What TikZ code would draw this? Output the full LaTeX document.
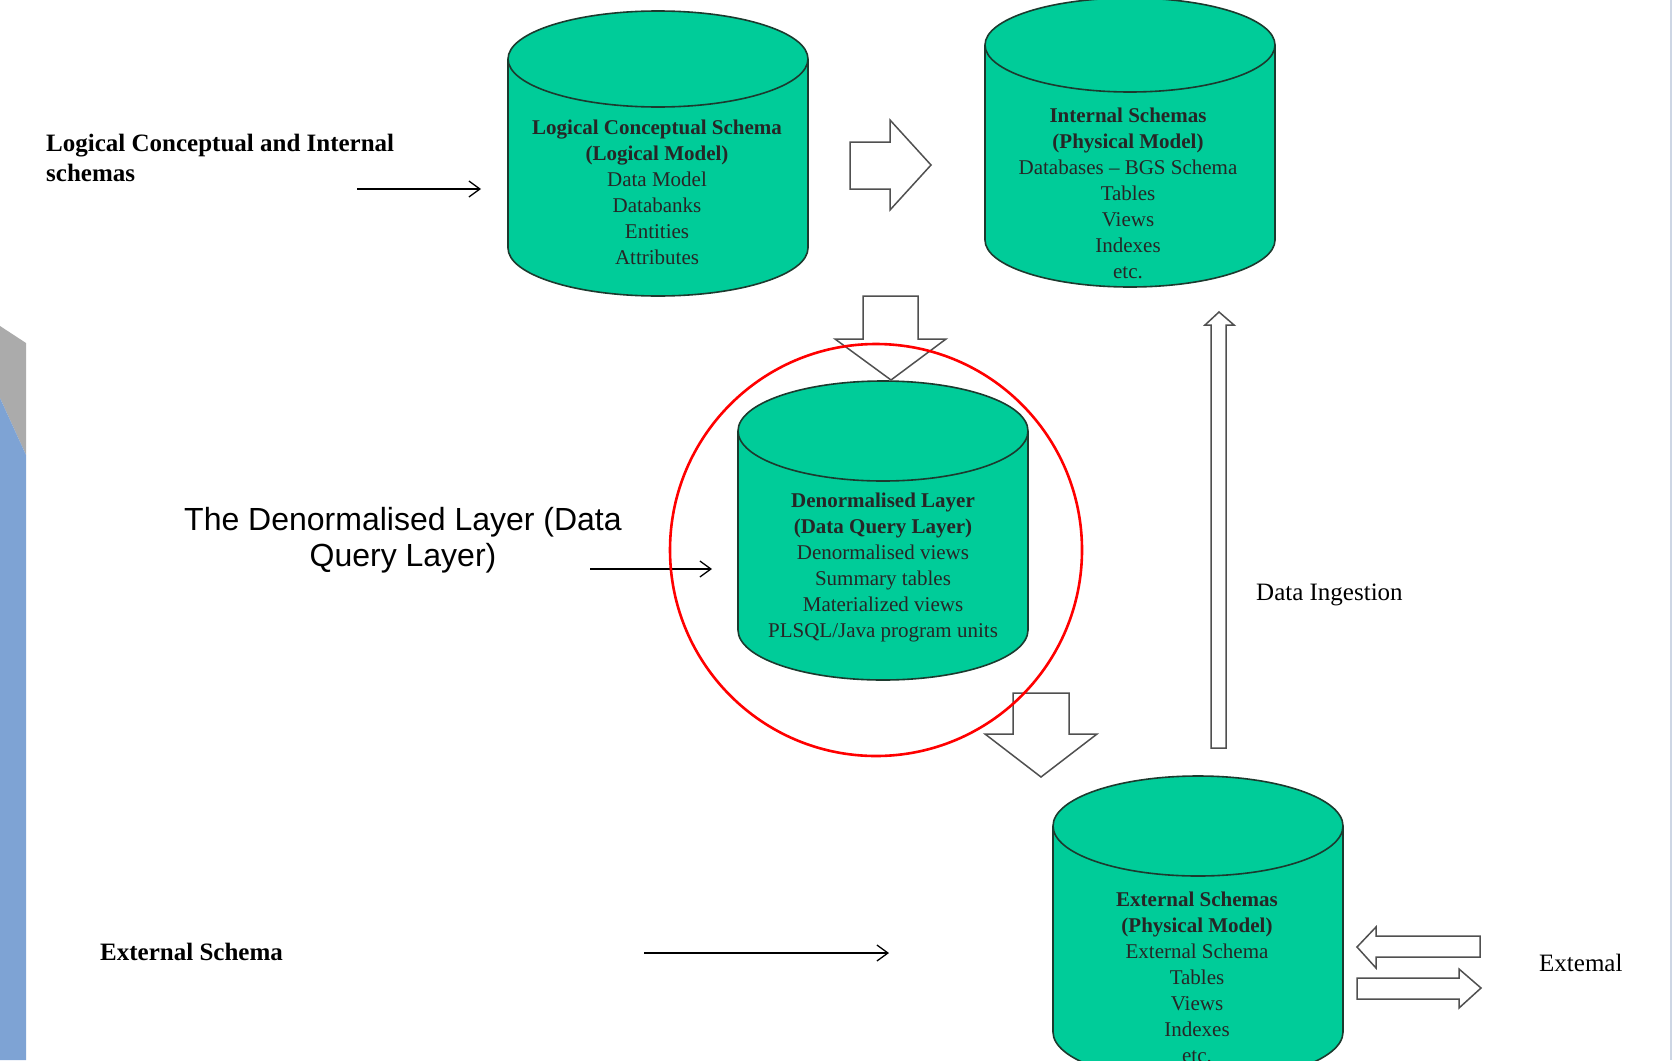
\documentclass[tikz,border=0pt]{standalone}
\usepackage{fontspec}
\setmainfont{Liberation Serif}
\newfontfamily\arialfont{Liberation Sans}
\usetikzlibrary{arrows.meta}
\definecolor{drumgreen}{RGB}{0,204,153}
\definecolor{drumline}{RGB}{28,58,46}
\definecolor{slideblue}{RGB}{126,163,212}
\definecolor{slidegray}{RGB}{171,171,171}
\definecolor{slideedge}{RGB}{205,214,228}
\definecolor{blockline}{RGB}{80,80,80}

% cx, top y, bottom y, rx, ry
\newcommand{\drawdrum}[5]{%
  \filldraw[drum] (#1,#3) ellipse[x radius=#4, y radius=#5];
  \fill[drumgreen] (#1-#4,#2) rectangle (#1+#4,#3);
  \draw[drum, fill=none] (#1-#4,#2) -- (#1-#4,#3) (#1+#4,#2) -- (#1+#4,#3);
  \filldraw[drum] (#1,#2) ellipse[x radius=#4, y radius=#5];
}

\begin{document}
\begin{tikzpicture}[x=1pt, y=-1pt,
    drum/.style={fill=drumgreen, draw=drumline, line width=1.6pt},
    drumtext/.style={align=center, inner sep=0pt, text=black!85, font=\fontsize{21}{26}\selectfont},
    sidelabel/.style={inner sep=0pt, anchor=west, font=\fontsize{25}{30}\selectfont},
    block/.style={fill=white, draw=blockline, line width=1.5pt, line join=miter},
    pointer/.style={line width=1.3pt, -{Straight Barb[length=11pt, width=16pt]}}]
    \useasboundingbox (0,0) rectangle (1672,1060);
    \clip (0,0) rectangle (1672,1060);
    \fill[white] (0,0) rectangle (1672,1060);
    \fill[slidegray] (0,326) -- (26,343) -- (26,455) -- (0,398) -- cycle;
    \fill[slideblue] (0,398) -- (26,455) -- (26,1060) -- (0,1060) -- cycle;
    \draw[slideedge, line width=2pt] (1671,0) -- (1671,1060);

    \drawdrum{658}{59}{248}{150}{48}
    \drawdrum{1130}{45}{240}{145}{47}
    \drawdrum{883}{431}{630}{145}{50}
    \drawdrum{1198}{826}{1032}{145}{50}

    \node[drumtext] (logical) at (657,192) {\textbf{Logical Conceptual Schema}\\ \textbf{(Logical Model)}\\ Data Model\\ Databanks\\ Entities\\ Attributes};
    \node[drumtext] (internal) at (1128,193) {\textbf{Internal Schemas}\\ \textbf{(Physical Model)}\\ Databases – BGS Schema\\ Tables\\ Views\\ Indexes\\ etc.};
    \node[drumtext] (denorm) at (883,567) {\textbf{Denormalised Layer}\\ \textbf{(Data Query Layer)}\\ Denormalised views\\ Summary tables\\ Materialized views\\ PLSQL/Java program units};
    \node[drumtext] (external) at (1197,977) {\textbf{External Schemas}\\ \textbf{(Physical Model)}\\ External Schema\\ Tables\\ Views\\ Indexes\\ etc.};

    \node[sidelabel, anchor=north west, align=left, font=\fontsize{25}{30}\selectfont\bfseries] (lcslabel) at (46,134) {Logical Conceptual and Internal\\ schemas};
    \node[inner sep=0pt, align=center, font=\arialfont\fontsize{32}{36}\selectfont] (dqlabel) at (403,540) {The Denormalised Layer (Data\\ Query Layer)};
    \node[sidelabel, font=\fontsize{25}{30}\selectfont\bfseries] (extlabel) at (100,952) {External Schema};
    \node[sidelabel] (ingest) at (1256,595) {Data Ingestion};
    \node[sidelabel] (outside) at (1539,963) {Extemal};

    \coordinate (lcs-a) at (357,189);  \coordinate (lcs-b) at (481,189);
    \coordinate (dq-a) at (590,569);   \coordinate (dq-b) at (712,569);
    \coordinate (ext-a) at (644,953);  \coordinate (ext-b) at (889,953);
    \foreach \a/\b in {lcs-a/lcs-b, dq-a/dq-b, ext-a/ext-b}
      \draw[pointer] (\a) -- (\b);

    \draw[block] (850,142) -- (890,142) -- (890,120) -- (931,165) -- (890,210) -- (890,189) -- (850,189) -- cycle;
    \draw[block] (863,296) -- (918,296) -- (918,339) -- (946,339) -- (891,380) -- (835,339) -- (863,339) -- cycle;
    \draw[block] (1013,693) -- (1069,693) -- (1069,734) -- (1097,734) -- (1041,777) -- (985,734) -- (1013,734) -- cycle;
    \draw[block] (1211,748) -- (1211,325) -- (1205,325) -- (1219,312) -- (1234,325) -- (1226,325) -- (1226,748) -- cycle;
    \draw[block] (1480,936) -- (1376,936) -- (1376,927) -- (1357,947) -- (1376,968) -- (1376,957) -- (1480,957) -- cycle;
    \draw[block] (1357,978) -- (1459,978) -- (1459,969) -- (1481,988) -- (1459,1008) -- (1459,999) -- (1357,999) -- cycle;

    \draw[red, line width=2.6pt] (876,550) circle[radius=206];
  \end{tikzpicture}
\end{document}
